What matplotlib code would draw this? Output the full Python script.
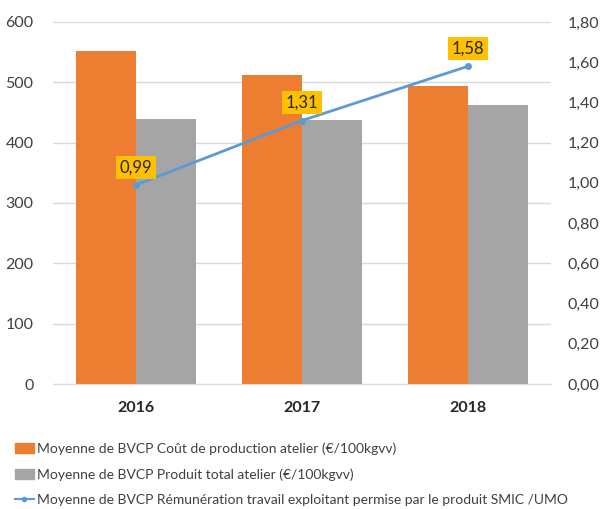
import matplotlib
matplotlib.use("Agg")
import matplotlib.pyplot as plt
import numpy as np
from matplotlib.patches import Patch
from matplotlib.lines import Line2D

years = ["2016", "2017", "2018"]
cout = [552, 512, 494]
produit = [439, 438, 462]
remun = [0.99, 1.31, 1.58]
remun_labels = ["0,99", "1,31", "1,58"]
left_ticks = [0, 100, 200, 300, 400, 500, 600]
right_ticks = [0.0, 0.2, 0.4, 0.6, 0.8, 1.0, 1.2, 1.4, 1.6, 1.8]

plt.rcParams['font.family'] = ['Lato', 'DejaVu Sans']

fig = plt.figure(figsize=(6.02, 5.09), dpi=100)
ax = fig.add_axes([53/602, 1-384/509, 498/602, 362/509])
x = np.arange(len(years))
w = 0.361
ax.bar(x - w/2, cout, w, color="#ED7D31", zorder=2)
ax.bar(x + w/2, produit, w, color="#A5A5A5", zorder=2)
ax.set_xlim(-0.5, 2.5)
ax.set_ylim(0, 600)
ax.set_yticks(left_ticks)
ax.set_yticklabels([str(t) for t in left_ticks], fontsize=11.5, color="#404040")
ax.set_xticks(x)
ax.set_xticklabels(years, fontsize=11.5, fontweight="bold", color="#262626")
ax.grid(axis="y", color="#D9D9D9", linewidth=1, zorder=0)
for s in ["top", "right", "left"]:
    ax.spines[s].set_visible(False)
ax.spines["bottom"].set_color("#D9D9D9")
ax.tick_params(axis="both", length=0)
ax.tick_params(axis="y", pad=14)
ax.tick_params(axis="x", pad=12)

ax2 = ax.twinx()
ax2.set_ylim(0, 1.8)
ax2.set_yticks(right_ticks)
ax2.set_yticklabels([f"{t:.2f}".replace(".", ",") for t in right_ticks], fontsize=11.5, color="#404040")
for s in ax2.spines.values():
    s.set_visible(False)
ax2.tick_params(axis="y", length=0, pad=12)
ax2.plot(x, remun, color="#5B9BD5", linewidth=2, marker="o", markersize=4, zorder=3)
for xi, yi, lab in zip(x, remun, remun_labels):
    ax2.annotate(lab, (xi, yi), xytext=(0, 7), textcoords="offset points",
                 ha="center", va="bottom", fontsize=12, color="#262626",
                 bbox=dict(boxstyle="square,pad=0.2", fc="#FFC000", ec="none"))

handles = [Patch(color="#ED7D31"), Patch(color="#A5A5A5"),
           Line2D([], [], color="#5B9BD5", marker="o", markersize=3, linewidth=1.5)]
labels = ["Moyenne de BVCP Coût de production atelier (€/100kgvv)",
          "Moyenne de BVCP Produit total atelier (€/100kgvv)",
          "Moyenne de BVCP Rémunération travail exploitant permise par le produit SMIC /UMO"]
fig.legend(handles, labels, loc="upper left", bbox_to_anchor=(0.015, 1-437/509),
           frameon=False, fontsize=10, handlelength=1.4, handletextpad=0.2,
           labelspacing=0.95, labelcolor="#404040", borderaxespad=0)
fig.savefig("out.png", dpi=100)
